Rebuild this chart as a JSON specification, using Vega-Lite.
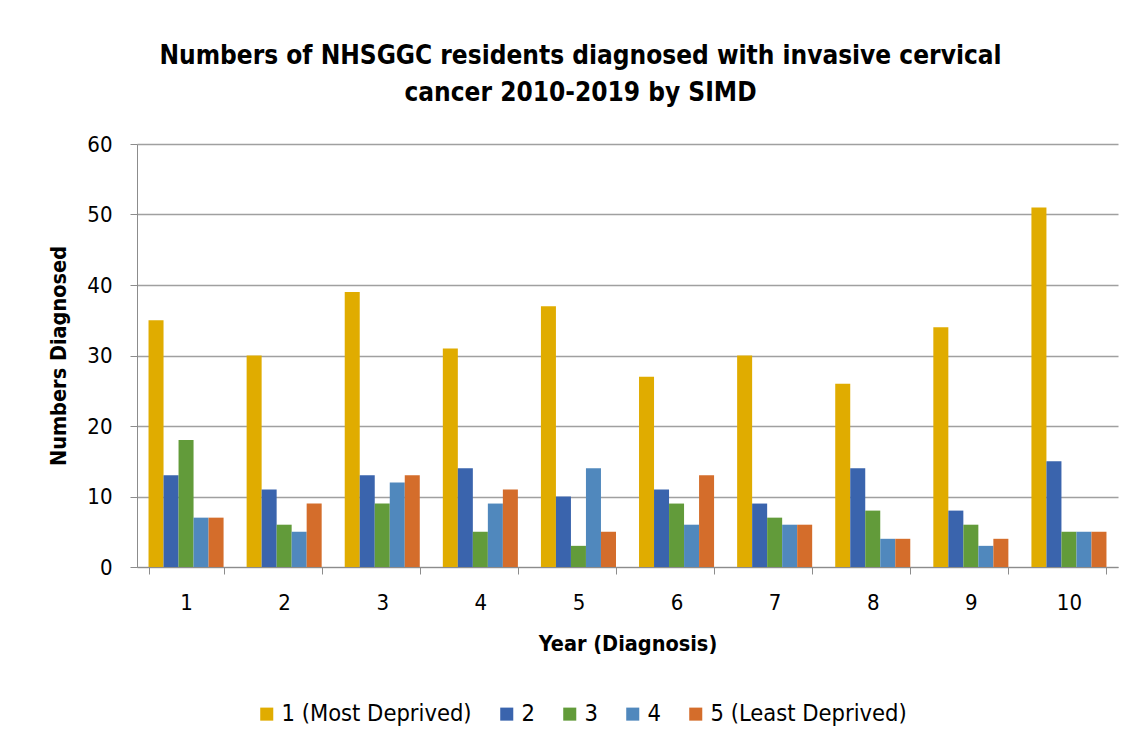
{
  "$schema": "https://vega.github.io/schema/vega-lite/v6.json",
  "autosize": "none",
  "width": 981,
  "height": 423,
  "padding": {"left": 137, "top": 144, "right": 16, "bottom": 180},
  "background": "white",
  "title": {
    "text": ["Numbers of NHSGGC residents  diagnosed with invasive cervical", "cancer 2010-2019 by SIMD"],
    "font": "DejaVu Sans Condensed",
    "fontSize": 26,
    "fontWeight": "bold",
    "color": "#000000",
    "anchor": "middle",
    "dx": -47,
    "lineHeight": 37,
    "offset": 27
  },
  "data": {
    "values": [
      {"year": 1, "simd": "1 (Most Deprived)", "n": 35},
      {"year": 1, "simd": "2", "n": 13},
      {"year": 1, "simd": "3", "n": 18},
      {"year": 1, "simd": "4", "n": 7},
      {"year": 1, "simd": "5 (Least Deprived)", "n": 7},
      {"year": 2, "simd": "1 (Most Deprived)", "n": 30},
      {"year": 2, "simd": "2", "n": 11},
      {"year": 2, "simd": "3", "n": 6},
      {"year": 2, "simd": "4", "n": 5},
      {"year": 2, "simd": "5 (Least Deprived)", "n": 9},
      {"year": 3, "simd": "1 (Most Deprived)", "n": 39},
      {"year": 3, "simd": "2", "n": 13},
      {"year": 3, "simd": "3", "n": 9},
      {"year": 3, "simd": "4", "n": 12},
      {"year": 3, "simd": "5 (Least Deprived)", "n": 13},
      {"year": 4, "simd": "1 (Most Deprived)", "n": 31},
      {"year": 4, "simd": "2", "n": 14},
      {"year": 4, "simd": "3", "n": 5},
      {"year": 4, "simd": "4", "n": 9},
      {"year": 4, "simd": "5 (Least Deprived)", "n": 11},
      {"year": 5, "simd": "1 (Most Deprived)", "n": 37},
      {"year": 5, "simd": "2", "n": 10},
      {"year": 5, "simd": "3", "n": 3},
      {"year": 5, "simd": "4", "n": 14},
      {"year": 5, "simd": "5 (Least Deprived)", "n": 5},
      {"year": 6, "simd": "1 (Most Deprived)", "n": 27},
      {"year": 6, "simd": "2", "n": 11},
      {"year": 6, "simd": "3", "n": 9},
      {"year": 6, "simd": "4", "n": 6},
      {"year": 6, "simd": "5 (Least Deprived)", "n": 13},
      {"year": 7, "simd": "1 (Most Deprived)", "n": 30},
      {"year": 7, "simd": "2", "n": 9},
      {"year": 7, "simd": "3", "n": 7},
      {"year": 7, "simd": "4", "n": 6},
      {"year": 7, "simd": "5 (Least Deprived)", "n": 6},
      {"year": 8, "simd": "1 (Most Deprived)", "n": 26},
      {"year": 8, "simd": "2", "n": 14},
      {"year": 8, "simd": "3", "n": 8},
      {"year": 8, "simd": "4", "n": 4},
      {"year": 8, "simd": "5 (Least Deprived)", "n": 4},
      {"year": 9, "simd": "1 (Most Deprived)", "n": 34},
      {"year": 9, "simd": "2", "n": 8},
      {"year": 9, "simd": "3", "n": 6},
      {"year": 9, "simd": "4", "n": 3},
      {"year": 9, "simd": "5 (Least Deprived)", "n": 4},
      {"year": 10, "simd": "1 (Most Deprived)", "n": 51},
      {"year": 10, "simd": "2", "n": 15},
      {"year": 10, "simd": "3", "n": 5},
      {"year": 10, "simd": "4", "n": 5},
      {"year": 10, "simd": "5 (Least Deprived)", "n": 5}
    ]
  },
  "mark": {"type": "bar"},
  "encoding": {
    "x": {
      "field": "year",
      "type": "ordinal",
      "scale": {"paddingInner": 0.235, "paddingOuter": 0.1175},
      "axis": {
        "title": "Year (Diagnosis)",
        "labelAngle": 0,
        "tickBand": "extent",
        "tickSize": 7,
        "tickColor": "#8c8c8c",
        "domainColor": "#8c8c8c",
        "labelPadding": 18,
        "titlePadding": 20
      }
    },
    "xOffset": {"field": "simd", "type": "nominal", "scale": {"paddingInner": 0, "paddingOuter": 0}},
    "y": {
      "field": "n",
      "type": "quantitative",
      "scale": {"domain": [0, 60], "nice": false},
      "axis": {
        "title": "Numbers Diagnosed",
        "values": [0, 10, 20, 30, 40, 50, 60],
        "tickSize": 7,
        "tickColor": "#8c8c8c",
        "domainColor": "#8c8c8c",
        "gridColor": "#a0a0a0",
        "gridWidth": 1.5,
        "labelPadding": 18,
        "titlePadding": 16
      }
    },
    "color": {
      "field": "simd",
      "type": "nominal",
      "scale": {
        "domain": ["1 (Most Deprived)", "2", "3", "4", "5 (Least Deprived)"],
        "range": ["#E0AC00", "#3A64AD", "#629B3A", "#5088BD", "#D46D2B"]
      },
      "legend": {
        "title": null,
        "orient": "none",
        "direction": "horizontal",
        "legendX": 118,
        "legendY": 558,
        "symbolType": "square",
        "symbolSize": 170,
        "symbolStrokeWidth": 0,
        "labelOffset": 3,
        "labelLimit": 400,
        "columnPadding": 23,
        "labelFontSize": 23.5,
        "labelFont": "DejaVu Sans Condensed",
        "labelColor": "#000000"
      }
    }
  },
  "config": {
    "view": {"stroke": null},
    "axis": {
      "labelFont": "DejaVu Sans Condensed",
      "labelFontSize": 22,
      "labelColor": "#000000",
      "titleFont": "DejaVu Sans Condensed",
      "titleFontSize": 21.5,
      "titleFontWeight": "bold",
      "titleColor": "#000000"
    },
    "axisX": {"grid": false},
    "bar": {"stroke": null}
  }
}
